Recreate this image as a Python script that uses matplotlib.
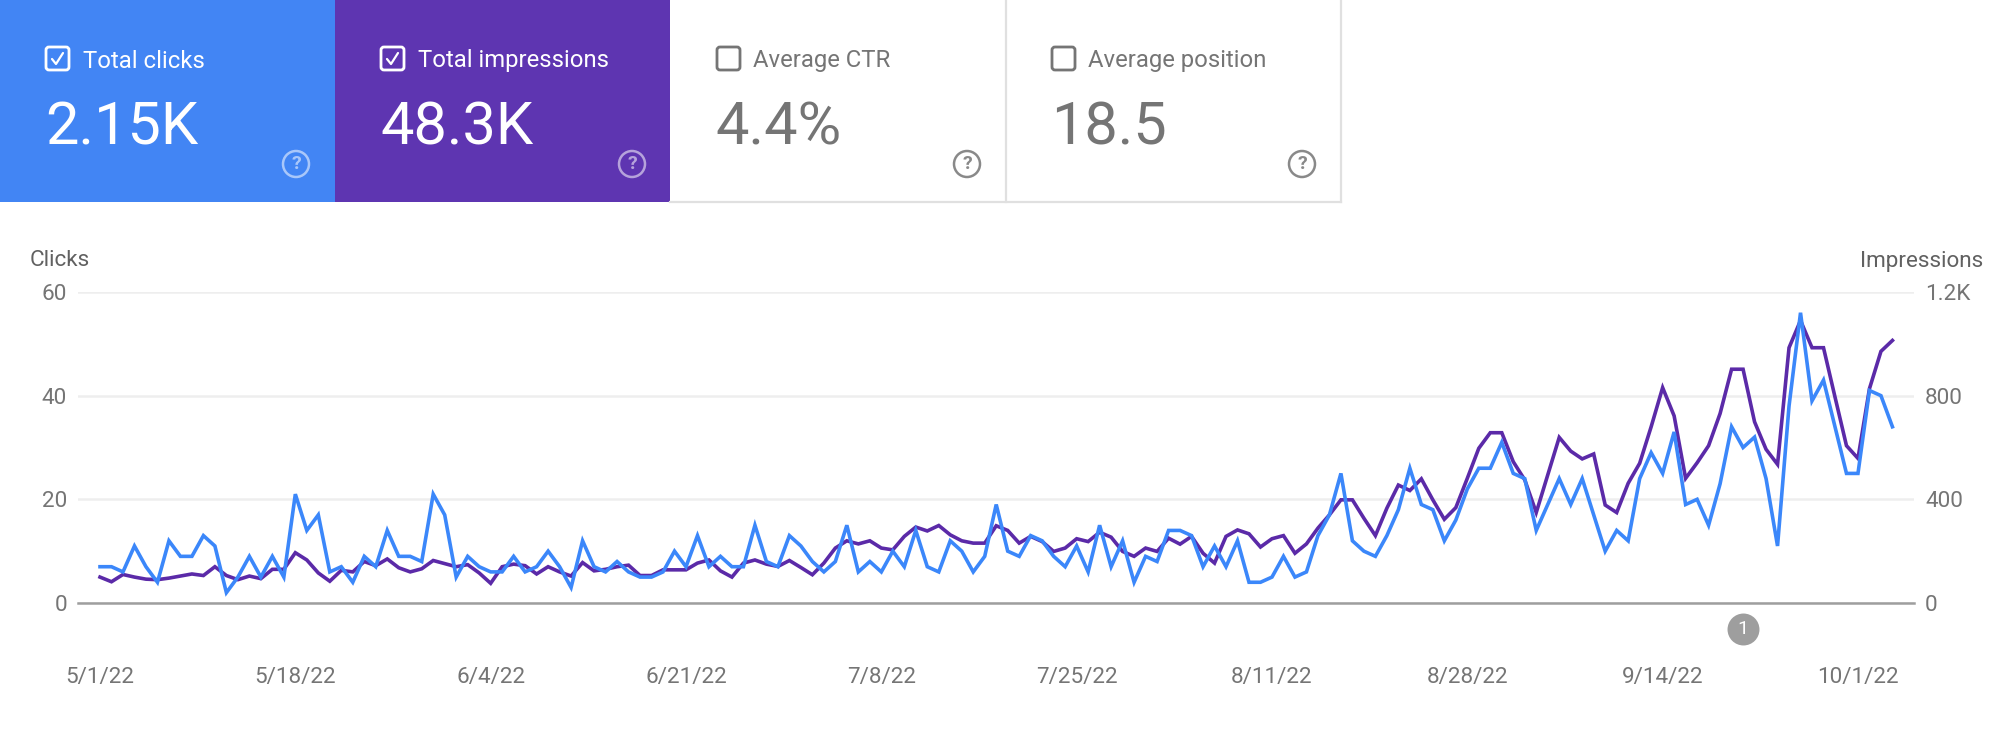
# coding=utf-8
# Search performance chart, clicks and impressions per day

import matplotlib
matplotlib.use('Agg')
import matplotlib.pyplot as plt
import pandas as pd
from matplotlib.patches import Circle, FancyBboxPatch, Rectangle

plt.rcParams['font.family'] = ['Roboto', 'DejaVu Sans']

card_titles = ['Total clicks', 'Total impressions', 'Average CTR', 'Average position']
card_values = ['2.15K', '48.3K', '4.4%', '18.5']
card_active = [True, True, False, False]

tick_dates = ['2022-05-01', '2022-05-18', '2022-06-04', '2022-06-21', '2022-07-08',
              '2022-07-25', '2022-08-11', '2022-08-28', '2022-09-14', '2022-10-01']
tick_labels = ['5/1/22', '5/18/22', '6/4/22', '6/21/22', '7/8/22',
               '7/25/22', '8/11/22', '8/28/22', '9/14/22', '10/1/22']
clicks_ticks = [0, 20, 40, 60]
clicks_labels = ['0', '20', '40', '60']
impressions_ticks = [0, 400, 800, 1200]
impressions_labels = ['0', '400', '800', '1.2K']
annotation_date = '2022-09-21'

clicks = [7, 7, 6, 11, 7, 4, 12, 9, 9, 13,
          11, 2, 5, 9, 5, 9, 5, 21, 14, 17,
          6, 7, 4, 9, 7, 14, 9, 9, 8, 21,
          17, 5, 9, 7, 6, 6, 9, 6, 7, 10,
          7, 3, 12, 7, 6, 8, 6, 5, 5, 6,
          10, 7, 13, 7, 9, 7, 7, 15, 8, 7,
          13, 11, 8, 6, 8, 15, 6, 8, 6, 10,
          7, 14, 7, 6, 12, 10, 6, 9, 19, 10,
          9, 13, 12, 9, 7, 11, 6, 15, 7, 12,
          4, 9, 8, 14, 14, 13, 7, 11, 7, 12,
          4, 4, 5, 9, 5, 6, 13, 17, 25, 12,
          10, 9, 13, 18, 26, 19, 18, 12, 16, 22,
          26, 26, 31, 25, 24, 14, 19, 24, 19, 24,
          17, 10, 14, 12, 24, 29, 25, 33, 19, 20,
          15, 23, 34, 30, 32, 24, 11, 38, 56, 39,
          43, 34, 25, 25, 41, 40, 34]

impressions = [100, 82, 110, 100, 92, 90, 96, 104, 112, 106,
               140, 106, 90, 104, 94, 130, 130, 194, 166, 116,
               84, 126, 120, 160, 144, 170, 136, 120, 132, 164,
               152, 140, 148, 116, 76, 140, 150, 144, 112, 140,
               120, 104, 156, 124, 130, 140, 146, 106, 106, 128,
               128, 128, 154, 166, 124, 100, 154, 166, 150, 141,
               164, 137, 109, 154, 212, 240, 228, 240, 212, 205,
               257, 293, 278, 299, 263, 240, 231, 231, 298, 280,
               231, 257, 237, 199, 212, 248, 237, 273, 254, 199,
               180, 212, 199, 250, 227, 257, 192, 154, 257, 282,
               267, 216, 248, 260, 192, 228, 289, 340, 398, 398,
               327, 260, 366, 455, 434, 479, 398, 323, 368, 481,
               597, 657, 657, 545, 475, 349, 494, 639, 586, 556,
               575, 378, 349, 462, 539, 680, 831, 722, 481, 541,
               607, 731, 902, 902, 699, 593, 535, 985, 1090, 985,
               985, 795, 607, 558, 827, 971, 1013]

W, H = 2000, 734
BLUE = '#4285f4'
PURPLE = '#5e35b1'
LINE_BLUE = '#3b87fa'
LINE_PURPLE = '#5b2aa8'
GREY_TEXT = '#757575'

fig = plt.figure(figsize=(W / 100, H / 100), dpi=100, facecolor='white')

# background layer in pixels, holds the cards
bg = fig.add_axes([0, 0, 1, 1])
bg.set_xlim(0, W)
bg.set_ylim(H, 0)
bg.axis('off')

CARD_W = 335.2
CARD_H = 202
text_x = [83, 418, 753, 1088]
box_x = [45, 380, 716, 1051]
value_x = [45, 380, 715, 1051]
help_x = [296, 632, 967, 1302]
fills = [BLUE, PURPLE, 'white', 'white']

for i in range(4):
    x0 = i * CARD_W
    bg.add_patch(Rectangle((x0, 0), CARD_W, CARD_H, fc=fills[i], ec='none', zorder=1))
    fg = 'white' if card_active[i] else GREY_TEXT
    # checkbox
    bg.add_patch(FancyBboxPatch((box_x[i] + 1, 47), 23, 23, boxstyle='round,pad=0,rounding_size=3',
                                fc='none', ec=fg, lw=2, zorder=2))
    if card_active[i]:
        bg.plot([box_x[i] + 7, box_x[i] + 11, box_x[i] + 18], [59, 64, 53], color=fg, lw=1.6,
                zorder=3, solid_capstyle='round')
    bg.text(text_x[i], 61, card_titles[i], color=fg, fontsize=17.2, ha='left', va='center', zorder=3)
    bg.text(value_x[i], 128, card_values[i], color=fg, fontsize=42.8, ha='left', va='center', zorder=3)
    # help icon
    help_color = 'white' if card_active[i] else GREY_TEXT
    bg.add_patch(Circle((help_x[i], 164), 13, fc='none', ec=help_color, lw=1.8,
                        alpha=0.55 if card_active[i] else 0.85, zorder=3))
    bg.text(help_x[i], 164, '?', color=help_color, fontsize=14, fontweight='bold', ha='center', va='center',
            alpha=0.55 if card_active[i] else 0.85, zorder=3)

# card borders
bg.plot([2 * CARD_W, 4 * CARD_W], [CARD_H, CARD_H], color='#e0e0e0', lw=1.6, zorder=2)
bg.plot([3 * CARD_W, 3 * CARD_W], [0, CARD_H], color='#e0e0e0', lw=1.6, zorder=2)
bg.plot([4 * CARD_W, 4 * CARD_W], [0, CARD_H], color='#e0e0e0', lw=1.6, zorder=2)

bg.text(30, 261, 'Clicks', color='#616161', fontsize=16.2, ha='left', va='center')
bg.text(1983, 261, 'Impressions', color='#616161', fontsize=16.2, ha='right', va='center')

# chart
days = pd.date_range('2022-05-01', periods=len(clicks), freq='D')
px_day = 11.49
left_px, right_px, top_px, bottom_px = 78, 1914, 292, 603

ax = fig.add_axes([left_px / W, 1 - bottom_px / H, (right_px - left_px) / W, (bottom_px - top_px) / H])
ax.patch.set_alpha(0)
ax2 = ax.twinx()

ax2.plot(days, impressions, color=LINE_PURPLE, lw=2.6, zorder=3, solid_joinstyle='miter')
ax2.set_ylim(0, 1200)
ax2.set_yticks(impressions_ticks)
ax2.set_yticklabels(impressions_labels)

ax.set_zorder(ax2.get_zorder() + 1)
ax.plot(days, clicks, color=LINE_BLUE, lw=2.6, zorder=3, solid_joinstyle='miter')
ax.set_ylim(0, 60)
ax.set_yticks(clicks_ticks)
ax.set_yticklabels(clicks_labels)
ax.set_xticks(pd.to_datetime(tick_dates))
ax.set_xticklabels(tick_labels)

start = days[0]
ax.set_xlim(start - pd.Timedelta(days=(100 - left_px) / px_day),
            start + pd.Timedelta(days=(right_px - 100) / px_day))

for a in (ax, ax2):
    for s in a.spines.values():
        s.set_visible(False)
    a.tick_params(axis='both', length=0, labelsize=16.2, labelcolor=GREY_TEXT)
ax.tick_params(axis='y', pad=8)
ax2.tick_params(axis='y', pad=8)
ax.tick_params(axis='x', pad=46)

ax2.set_axisbelow(True)
ax2.grid(axis='y', color='#eeeeee', lw=1.8, zorder=0)
ax2.axhline(0, color='#9e9e9e', lw=1.8, zorder=1, clip_on=False)

# annotation marker below the zero line
ann_day = pd.Timestamp(annotation_date)
ax.plot([ann_day], [-5], marker='o', ms=23, color='#9e9e9e', mec='none', clip_on=False, zorder=4)
ax.text(ann_day, -5, '1', color='white', fontsize=14, ha='center', va='center', zorder=5)

fig.savefig('out.png', dpi=100)
